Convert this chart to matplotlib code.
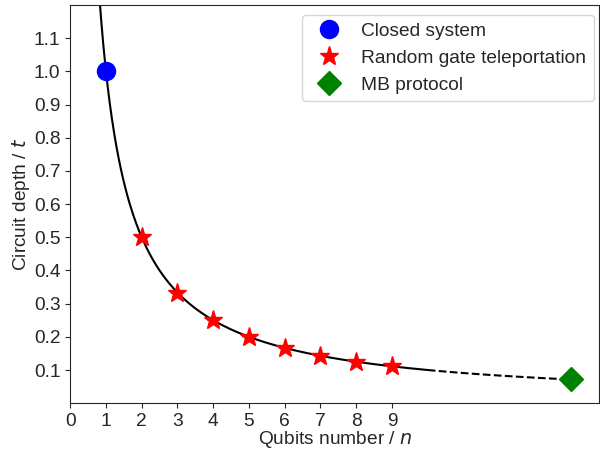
import numpy as np
import matplotlib
matplotlib.use('Agg')
import matplotlib.pyplot as plt
import seaborn as sns

sns.set_style('ticks')
plt.rcParams['font.family'] = ['Liberation Sans', 'DejaVu Sans']

closed_n = [1]
closed_t = [1.0]
tele_n = [2, 3, 4, 5, 6, 7, 8, 9]
tele_t = [1/2, 1/3, 1/4, 1/5, 1/6, 1/7, 1/8, 1/9]
mb_n = [14]
mb_t = [1/14]

# t = 1/n curve, solid over the simulated range, dashed beyond
n_solid = np.linspace(0.8, 10, 300)
n_dash = np.linspace(10, 14, 100)

fig = plt.figure(figsize=(6, 4.5), dpi=100)
ax = fig.add_axes([0.117, 0.104, 0.882, 0.885])

ax.plot(n_solid, 1/n_solid, color='black', linewidth=1.5, zorder=1)
ax.plot(n_dash, 1/n_dash, color='black', linewidth=1.5, linestyle='--', zorder=1)
ax.plot(closed_n, closed_t, 'o', color='blue', markersize=13, linestyle='None',
        label='Closed system', zorder=3)
ax.plot(tele_n, tele_t, '*', color='red', markersize=14, linestyle='None',
        label='Random gate teleportation', zorder=3)
ax.plot(mb_n, mb_t, 'D', color='green', markersize=12, linestyle='None',
        label='MB protocol', zorder=3)

ax.set_xlim(0, 14.8)
ax.set_ylim(0, 1.2)
ax.set_xticks(range(0, 10))
ax.set_yticks([0.1, 0.2, 0.3, 0.4, 0.5, 0.6, 0.7, 0.8, 0.9, 1.0, 1.1])
ax.tick_params(labelsize=13.8)
ax.set_xlabel('Qubits number / $n$', fontsize=13.8, labelpad=-0.5)
ax.set_ylabel('Circuit depth / $t$', fontsize=13.8, labelpad=1.5)
ax.legend(loc='upper right', bbox_to_anchor=(1.008, 1.0), fontsize=13.8,
          handletextpad=0.7)

fig.savefig('out.png', dpi=100)
